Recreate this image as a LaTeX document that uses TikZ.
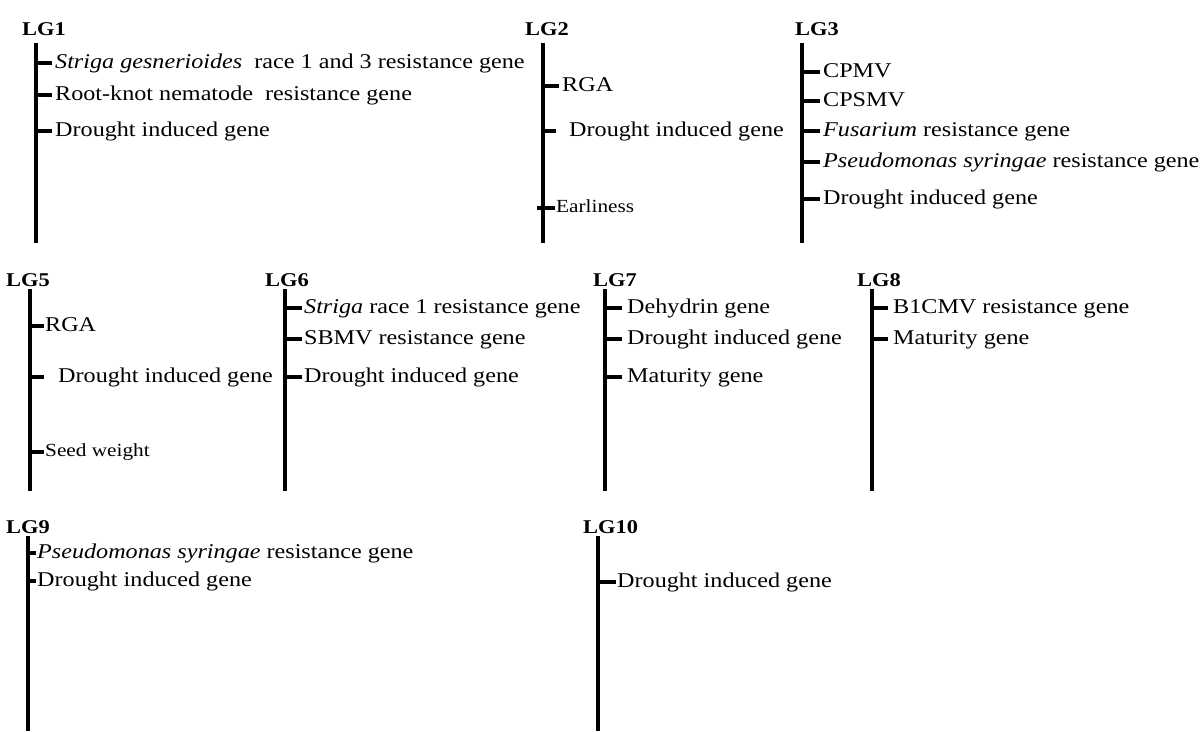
\documentclass[tikz,border=0pt]{standalone}
\usepackage{fontspec}
\setmainfont[FakeStretch=1.15]{Liberation Serif}
\begin{document}
\tikzset{
  chrom/.style={line width=4pt},
  tickmark/.style={line width=4pt},
  gene/.style={anchor=west, inner sep=0pt, text height=14pt, text depth=4pt, font=\fontsize{21}{25}\selectfont},
  small/.style={anchor=west, inner sep=0pt, text height=12pt, text depth=3pt, font=\fontsize{18.5}{22}\selectfont},
  lg/.style={anchor=base west, inner sep=0pt, font=\fontsize{19.5}{24}\selectfont\bfseries},
}
\begin{tikzpicture}[x=1pt,y=-1pt]
\useasboundingbox[fill=white] (0,0) rectangle (1202,731);
% ---------- LG1
\node[lg] (lg1) at (22,35) {LG1};
\coordinate (c1t) at (36,43); \coordinate (c1b) at (36,243);
\draw[chrom] (c1t) -- (c1b);
\node[gene] (g1a) at (55,63) {\textit{Striga gesnerioides}\ \ race 1 and 3 resistance gene};
\node[gene] (g1b) at (55,95) {Root-knot nematode\ \ resistance gene};
\node[gene] (g1c) at (55,131) {Drought induced gene};
\foreach \g in {g1a,g1b,g1c} \draw[tickmark] (c1t |- \g.west) -- ++(16,0);
% ---------- LG2
\node[lg] (lg2) at (525,35) {LG2};
\coordinate (c2t) at (543,43); \coordinate (c2b) at (543,243);
\draw[chrom] (c2t) -- (c2b);
\node[gene] (g2a) at (562,86) {RGA};
\node[gene] (g2b) at (569,131) {Drought induced gene};
\node[small] (g2c) at (556,208) {Earliness};
\draw[tickmark] (c2t |- g2a.west) -- ++(16,0);
\draw[tickmark] (c2t |- g2b.west) -- ++(13,0);
\draw[tickmark] (c2t |- g2c.west) ++(-6,0) -- ++(18,0);
% ---------- LG3
\node[lg] (lg3) at (795,35) {LG3};
\coordinate (c3t) at (802,43); \coordinate (c3b) at (802,243);
\draw[chrom] (c3t) -- (c3b);
\node[gene] (g3a) at (823,72) {CPMV};
\node[gene] (g3b) at (823,101) {CPSMV};
\node[gene] (g3c) at (823,131) {\textit{Fusarium} resistance gene};
\node[gene] (g3d) at (823,162) {\textit{Pseudomonas syringae} resistance gene};
\node[gene] (g3e) at (823,199) {Drought induced gene};
\foreach \g in {g3a,g3b,g3c,g3d,g3e} \draw[tickmark] (c3t |- \g.west) -- ++(18,0);
% ---------- LG5
\node[lg] (lg5) at (6,286) {LG5};
\coordinate (c5t) at (30,289); \coordinate (c5b) at (30,491);
\draw[chrom] (c5t) -- (c5b);
\node[gene] (g5a) at (45,326) {RGA};
\node[gene] (g5b) at (58,377) {Drought induced gene};
\node[small] (g5c) at (45,452) {Seed weight};
\draw[tickmark] (c5t |- g5a.west) -- ++(14,0);
\draw[tickmark] (c5t |- g5b.west) -- ++(14,0);
\draw[tickmark] (c5t |- g5c.west) -- ++(14,0);
% ---------- LG6
\node[lg] (lg6) at (265,286) {LG6};
\coordinate (c6t) at (285,289); \coordinate (c6b) at (285,491);
\draw[chrom] (c6t) -- (c6b);
\node[gene] (g6a) at (304,308) {\textit{Striga} race 1 resistance gene};
\node[gene] (g6b) at (304,339) {SBMV resistance gene};
\node[gene] (g6c) at (304,377) {Drought induced gene};
\foreach \g in {g6a,g6b,g6c} \draw[tickmark] (c6t |- \g.west) -- ++(17,0);
% ---------- LG7
\node[lg] (lg7) at (593,286) {LG7};
\coordinate (c7t) at (605,289); \coordinate (c7b) at (605,491);
\draw[chrom] (c7t) -- (c7b);
\node[gene] (g7a) at (627,308) {Dehydrin gene};
\node[gene] (g7b) at (627,339) {Drought induced gene};
\node[gene] (g7c) at (627,377) {Maturity gene};
\foreach \g in {g7a,g7b,g7c} \draw[tickmark] (c7t |- \g.west) -- ++(17,0);
% ---------- LG8
\node[lg] (lg8) at (857,286) {LG8};
\coordinate (c8t) at (872,289); \coordinate (c8b) at (872,491);
\draw[chrom] (c8t) -- (c8b);
\node[gene] (g8a) at (893,308) {B1CMV resistance gene};
\node[gene] (g8b) at (893,339) {Maturity gene};
\foreach \g in {g8a,g8b} \draw[tickmark] (c8t |- \g.west) -- ++(16,0);
% ---------- LG9
\node[lg] (lg9) at (6,533) {LG9};
\coordinate (c9t) at (28,536); \coordinate (c9b) at (28,731);
\draw[chrom] (c9t) -- (c9b);
\node[gene] (g9a) at (37,553) {\textit{Pseudomonas syringae} resistance gene};
\node[gene] (g9b) at (37,581) {Drought induced gene};
\foreach \g in {g9a,g9b} \draw[tickmark] (c9t |- \g.west) -- ++(8,0);
% ---------- LG10
\node[lg] (lg10) at (583,533) {LG10};
\coordinate (c10t) at (598,536); \coordinate (c10b) at (598,731);
\draw[chrom] (c10t) -- (c10b);
\node[gene] (g10a) at (617,582) {Drought induced gene};
\draw[tickmark] (c10t |- g10a.west) -- ++(18,0);
\end{tikzpicture}
\end{document}
